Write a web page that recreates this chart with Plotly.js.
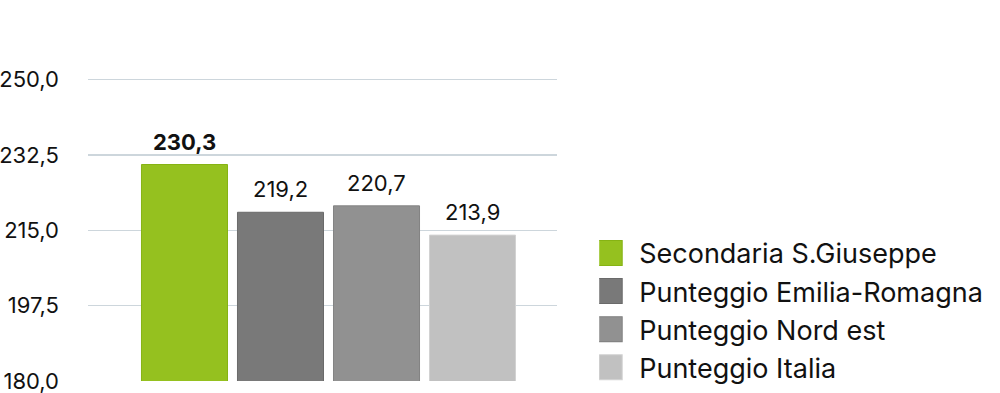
<!DOCTYPE html>
<html>
<head>
<meta charset="utf-8">
<script src="https://cdn.plot.ly/plotly-3.0.1.min.js"></script>
<style>body{margin:0;background:#fff;} #chart{width:1000px;height:393px;}</style>
</head>
<body>
<div id="chart"></div>
<script>
const categories = ["Secondaria S.Giuseppe", "Punteggio Emilia-Romagna", "Punteggio Nord est", "Punteggio Italia"];
const values = [230.3, 219.2, 220.7, 213.9];
const boldLabel = [true, false, false, false];
const tickValues = [180, 197.5, 215, 232.5, 250];
const fillColors = ["#95c11f", "#797979", "#919191", "#c1c1c1"];
const lineColors = ["#86b314", "#6a6a6a", "#838383", "#d2d2d2"];

const FONT = "Inter, 'Noto Sans', sans-serif";

const traces = categories.map((c, i) => ({
  type: "bar",
  name: c,
  x: [c],
  y: [values[i]],
  legendgroup: "g" + i,
  marker: { color: fillColors[i], line: { color: lineColors[i], width: 1 } },
  hoverinfo: "none"
}));

const annotations = categories.map((c, i) => {
  const t = values[i].toFixed(1).replace(".", ",");
  return {
    x: c, y: values[i], xref: "x", yref: "y",
    text: boldLabel[i] ? "<b>" + t + "</b>" : t,
    showarrow: false, yanchor: "bottom", yshift: 8,
    font: { family: FONT, size: 22, color: "#111" }
  };
});

const layout = {
  width: 1000, height: 393,
  margin: { l: 88, r: 443, t: 78, b: 12, autoexpand: false },
  paper_bgcolor: "#fff", plot_bgcolor: "#fff",
  separators: ",.",
  barmode: "overlay",
  bargap: 0.104,
  showlegend: true,
  font: { family: FONT, color: "#111" },
  xaxis: {
    type: "category",
    range: [-1.005, 3.88],
    showticklabels: false, showgrid: false, zeroline: false, showline: false, ticks: ""
  },
  yaxis: {
    range: [180, 250.4],
    tickvals: tickValues,
    tickformat: ".1f",
    showgrid: true, gridcolor: "#cdd6dc", gridwidth: 1.5,
    zeroline: false, showline: false, ticks: "",
    ticklabelstandoff: 28,
    ticklabeloverflow: "allow",
    tickfont: { family: FONT, size: 22, color: "#111" }
  },
  legend: {
    x: 1.09, xanchor: "left", y: -0.036, yanchor: "bottom",
    font: { family: FONT, size: 27, color: "#111" },
    tracegroupgap: 0,
    bgcolor: "rgba(0,0,0,0)"
  },
  annotations: annotations
};

Plotly.newPlot("chart", traces, layout, { staticPlot: true, displayModeBar: false }).then(() => {
  document.querySelectorAll(".legend .legendpoints path").forEach(p => {
    p.setAttribute("transform", "translate(10.5,0) scale(2.08)");
    p.style.strokeWidth = "0.5px";
  });
});
</script>
</body>
</html>
